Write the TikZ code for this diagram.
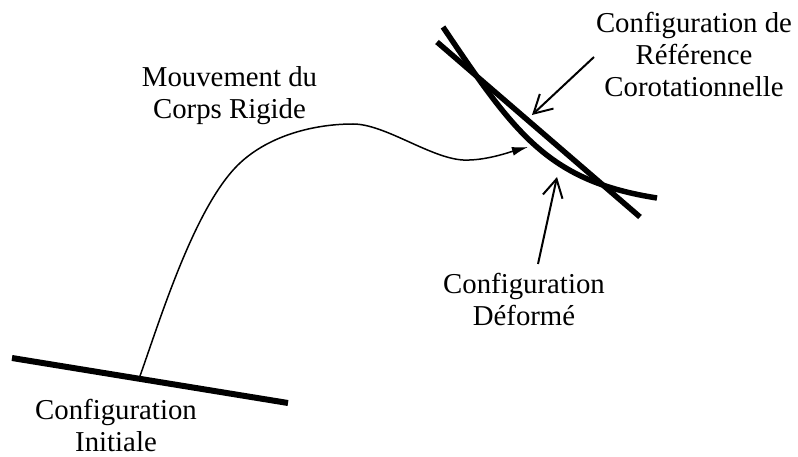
\documentclass[tikz,border=0pt]{standalone}
\usepackage{fontspec}
\setmainfont{Liberation Serif}
\usetikzlibrary{arrows.meta}
\begin{document}
\begin{tikzpicture}[x=1pt,y=-1pt,
  bar/.style={line width=6pt},
  config/.style={line width=5.5pt},
  lbl/.style={align=center, inner sep=0pt, anchor=base, font=\fontsize{28.8}{32}\selectfont},
  pointer/.style={line width=2pt, -{Straight Barb[length=18pt,width=20pt,line width=2pt]}},
  motion/.style={line width=1.5pt, -{Latex[length=16pt,width=9pt]}}]
\useasboundingbox (0,0) rectangle (798,457);
% initial configuration
\coordinate (i1) at (12,358);
\coordinate (i2) at (288,403);
\draw[bar] (i1) -- (i2);
% corotational reference (straight)
\coordinate (r1) at (437,42);
\coordinate (r2) at (640,217);
\draw[config] (r1) -- (r2);
% deformed configuration (curved)
\coordinate (d1) at (443,27);
\coordinate (d2) at (657,198);
\draw[config] (d1) .. controls (515,134) and (548,181) .. (d2);
% rigid body motion
\coordinate (m0) at (140,376);
\coordinate (m1) at (240,163);
\coordinate (m2) at (353,124);
\coordinate (m3) at (463,160);
\coordinate (m4) at (528,147);
\draw[motion] (m0) .. controls (160,320) and (195,205) .. (m1)
  .. controls (270,135) and (315,124) .. (m2)
  .. controls (385,124) and (430,158) .. (m3)
  .. controls (485,161) and (510,152) .. (m4);
% labels
\node[lbl] (mv) at (229.5,119) {Mouvement du\\Corps Rigide};
\node[lbl] (ref) at (694,97) {Configuration de\\Référence\\Corotationnelle};
\node[lbl] (def) at (524,325) {Configuration\\Déformé};
\node[lbl] (ini) at (116,451.5) {Configuration\\Initiale};
% pointers
\coordinate (p1s) at (594,57);
\coordinate (p1e) at (532,115);
\coordinate (p2s) at (538,264);
\coordinate (p2e) at (557,177);
\draw[pointer] (p1s) -- (p1e);
\draw[pointer] (p2s) -- (p2e);
\end{tikzpicture}
\end{document}
